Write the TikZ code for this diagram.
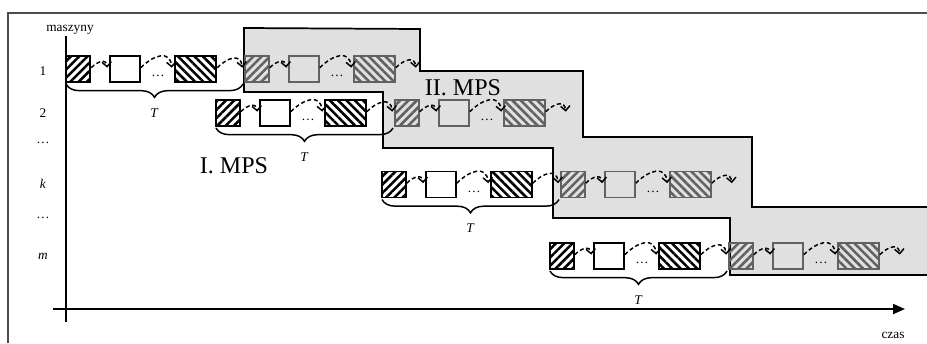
\documentclass[tikz,border=0pt]{standalone}
\usepackage{fontspec}
\setmainfont{Liberation Serif}
\usetikzlibrary{arrows.meta,patterns.meta,decorations.pathreplacing}

\colorlet{mpsfill}{black!12}
\colorlet{dimink}{black!62}

\tikzset{
    box/.style={draw=#1,line width=1.2pt,inner sep=0pt,minimum height=19.5pt},
    sqbox/.style={box=#1,minimum width=18pt,
        pattern={Lines[angle=45,distance=4.4pt,line width=1.9pt]},pattern color=#1},
    whbox/.style={box=#1,minimum width=22.5pt},
    bigbox/.style={box=#1,minimum width=30.75pt,
        pattern={Lines[angle=-45,distance=4.4pt,line width=1.9pt]},pattern color=#1},
    flow/.style={line width=1.1pt,dash pattern=on 3pt off 2pt,
        -{Straight Barb[length=3.5pt,width=7pt]},out=45,in=95,looseness=1.5},
    tbrace/.style={line width=1.1pt,decorate,decoration={brace,mirror,amplitude=10pt}},
    tlab/.style={midway,below=18pt,inner sep=0pt},
    axis/.style={line width=1.4pt},
}

\begin{document}
\begin{tikzpicture}[x=0.75pt,y=-0.75pt]
    \useasboundingbox (0,0) rectangle (927,343);
    % frame
    \draw[black!70,line width=1.6pt] (8,343) -- (8,13) -- (927,13);
    % II. MPS area
    \fill[mpsfill] (244,28) -- (420,29) -- (420,71) -- (583,71) -- (583,137)
        -- (752,137) -- (752,207) -- (927,207) -- (927,275) -- (730,275)
        -- (730,218) -- (553,218) -- (553,148) -- (383,148) -- (383,92)
        -- (244,92) -- cycle;
    \draw[line width=1.3pt] (927,207) -- (752,207) -- (752,137) -- (583,137)
        -- (583,71) -- (420,71) -- (420,29) -- (244,28) -- (244,92)
        -- (383,92) -- (383,148) -- (553,148) -- (553,218) -- (730,218)
        -- (730,275) -- (927,275);

    % axes
    \coordinate (ytop) at (66,36);
    \coordinate (ybot) at (66,322);
    \coordinate (xleft) at (53,309);
    \coordinate (xright) at (905,309);
    \draw[axis] (ybot) -- (ytop);
    \draw[axis,-{Triangle[length=9pt,width=7.5pt]}] (xleft) -- (xright);
    \node (maszyny) at (70,30) {maszyny};
    \node (czas) at (893,335) {czas};

    % machine labels
    \node (m1) at (43,71) {1};
    \node (m2) at (43,113) {2};
    \node (mdots1) at (43,143) {\ldots};
    \node (mk) at (43,184) {\textit{k}};
    \node (mdots2) at (43,218) {\ldots};
    \node (mm) at (43,256) {\textit{m}};

    % two cycles on each machine
    \foreach \row/\xo/\yo in {1/66/69,2/216/113,k/382/184.5,m/550/256}{
        \foreach \cyc/\ink in {1/black,2/dimink}{
            \pgfmathsetmacro\xc{\xo+(\cyc-1)*179}
            \node[sqbox=\ink] (s\row\cyc) at (\xc+12,\yo) {};
            \node[whbox=\ink] (w\row\cyc) at (\xc+59,\yo) {};
            \node[bigbox=\ink] (b\row\cyc) at (\xc+129.5,\yo) {};
            \node[inner sep=0pt] (d\row\cyc) at (\xc+92,\yo+7) {\ldots};
            \draw[flow] ([yshift=1pt]s\row\cyc.east) to ([shift={(-1.5pt,1pt)}]w\row\cyc.west);
            \draw[flow] ([yshift=1pt]w\row\cyc.east) to ([shift={(-1.5pt,1pt)}]b\row\cyc.west);
        }
        \coordinate (q\row) at ([shift={(15pt,1pt)}]b\row2.east);
        \draw[flow] ([yshift=1pt]b\row1.east) to ([shift={(-1.5pt,1pt)}]s\row2.west);
        \draw[flow] ([yshift=1pt]b\row2.east) to (q\row);
        % period T
        \coordinate (bl\row) at (\xo,\yo+15);
        \coordinate (br\row) at (\xo+177,\yo+15);
        \draw[tbrace] (bl\row) -- (br\row) node[tlab] {\textit{T}};
    }

    \node[font=\fontsize{18}{20}\selectfont] (mps1) at (234,166) {I. MPS};
    \node[font=\fontsize{18}{20}\selectfont] (mps2) at (463,88) {II. MPS};
\end{tikzpicture}
\end{document}
